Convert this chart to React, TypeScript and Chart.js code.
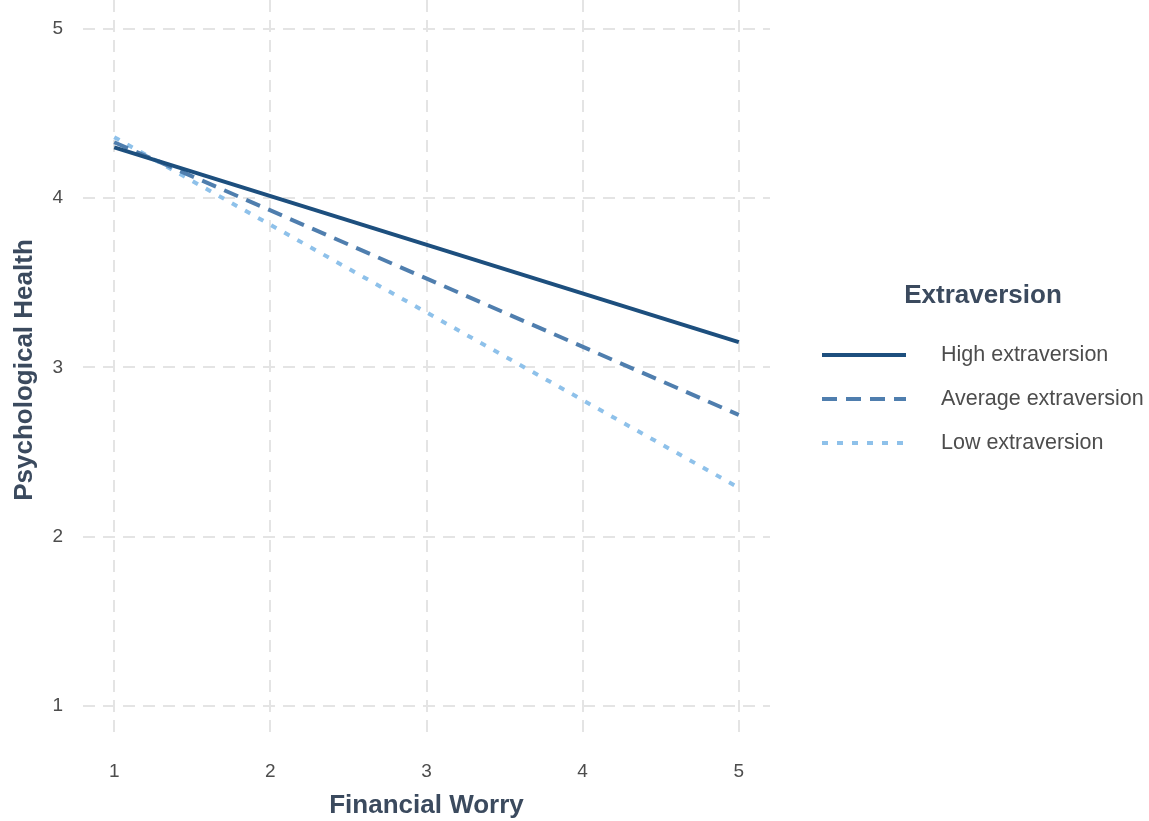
import React, { useEffect, useRef } from "react";
import { Chart, registerables } from "chart.js";

Chart.register(...registerables);

const worryLevels = [1, 5];
const highExtraversion = [4.3, 3.15];
const averageExtraversion = [4.33, 2.72];
const lowExtraversion = [4.36, 2.29];
const xTicks = [1, 2, 3, 4, 5];
const yTicks = [1, 2, 3, 4, 5];
const seriesNames = ["High extraversion", "Average extraversion", "Low extraversion"];
const legendTitle = "Extraversion";
const xTitle = "Financial Worry";
const yTitle = "Psychological Health";

const FONT = "'Liberation Sans', Arial, Helvetica, sans-serif";
const TITLE_COLOR = "#3b4a5e";
const TICK_COLOR = "#4d4d4d";
const GRID_COLOR = "#e4e4e4";
const colors = ["#1d4f7e", "#4f7eae", "#8ec1ea"];
const dashes: number[][] = [[], [15, 9], [6, 9]];

const legendPlugin = {
  id: "customLegend",
  afterDraw(chart: any) {
    const ctx = chart.ctx;
    ctx.save();
    ctx.fillStyle = TITLE_COLOR;
    ctx.font = `bold 26px ${FONT}`;
    ctx.textAlign = "center";
    ctx.textBaseline = "middle";
    ctx.fillText(legendTitle, 983, 296);
    const ys = [355, 399, 443];
    seriesNames.forEach((name, i) => {
      ctx.strokeStyle = colors[i];
      ctx.lineWidth = 4;
      ctx.setLineDash(dashes[i]);
      ctx.beginPath();
      ctx.moveTo(822, ys[i]);
      ctx.lineTo(906, ys[i]);
      ctx.stroke();
      ctx.setLineDash([]);
      ctx.fillStyle = TICK_COLOR;
      ctx.font = `21.5px ${FONT}`;
      ctx.textAlign = "left";
      ctx.textBaseline = "middle";
      ctx.fillText(name, 941, ys[i]);
    });
    ctx.restore();
  },
};

export default function App() {
  const canvasRef = useRef<HTMLCanvasElement>(null);

  useEffect(() => {
    const canvas = canvasRef.current;
    if (!canvas) return;
    const mk = (label: string, values: number[], i: number) => ({
      label,
      data: worryLevels.map((x, k) => ({ x, y: values[k] })),
      borderColor: colors[i],
      backgroundColor: colors[i],
      borderWidth: 4,
      borderDash: dashes[i],
      pointRadius: 0,
      fill: false,
      tension: 0,
    });
    const chart = new Chart(canvas, {
      type: "line",
      data: {
        datasets: [
          mk(seriesNames[0], highExtraversion, 0),
          mk(seriesNames[1], averageExtraversion, 1),
          mk(seriesNames[2], lowExtraversion, 2),
        ],
      },
      options: {
        animation: false,
        responsive: false,
        maintainAspectRatio: false,
        layout: { padding: { left: 0, right: 379, top: 0, bottom: 0 } },
        plugins: {
          legend: { display: false },
          tooltip: { enabled: false },
        },
        scales: {
          x: {
            type: "linear",
            min: 0.8,
            max: 5.2,
            afterBuildTicks: (scale: any) => {
              scale.ticks = xTicks.map((v) => ({ value: v }));
            },
            afterFit: (scale: any) => {
              scale.height = 81;
              scale.paddingLeft = 0;
              scale.paddingRight = 0;
            },
            grid: { color: GRID_COLOR, lineWidth: 2, drawTicks: false },
            border: { display: false, dash: [12, 8] },
            ticks: {
              color: TICK_COLOR,
              font: { family: FONT, size: 19 },
              padding: 20,
              maxRotation: 0,
            },
            title: {
              display: true,
              text: xTitle,
              color: TITLE_COLOR,
              font: { family: FONT, size: 26, weight: "bold" },
              padding: { top: 0, bottom: 0 },
            },
          },
          y: {
            type: "linear",
            min: 0.8,
            max: 5.17,
            afterBuildTicks: (scale: any) => {
              scale.ticks = yTicks.map((v) => ({ value: v }));
            },
            afterFit: (scale: any) => {
              scale.width = 83;
              scale.paddingTop = 0;
              scale.paddingBottom = 0;
            },
            grid: { color: GRID_COLOR, lineWidth: 2, drawTicks: false },
            border: { display: false, dash: [12, 8] },
            ticks: {
              color: TICK_COLOR,
              font: { family: FONT, size: 19 },
              padding: 20,
            },
            title: {
              display: true,
              text: yTitle,
              color: TITLE_COLOR,
              font: { family: FONT, size: 26, weight: "bold" },
              padding: { top: 9, bottom: 0 },
            },
          },
        },
      },
      plugins: [legendPlugin],
    } as any);
    return () => chart.destroy();
  }, []);

  return (
    <div style={{ position: "fixed", left: 0, top: 0, width: 1149, height: 821, background: "#ffffff" }}>
      <canvas ref={canvasRef} width={1149} height={821} style={{ width: 1149, height: 821, display: "block" }} />
    </div>
  );
}
